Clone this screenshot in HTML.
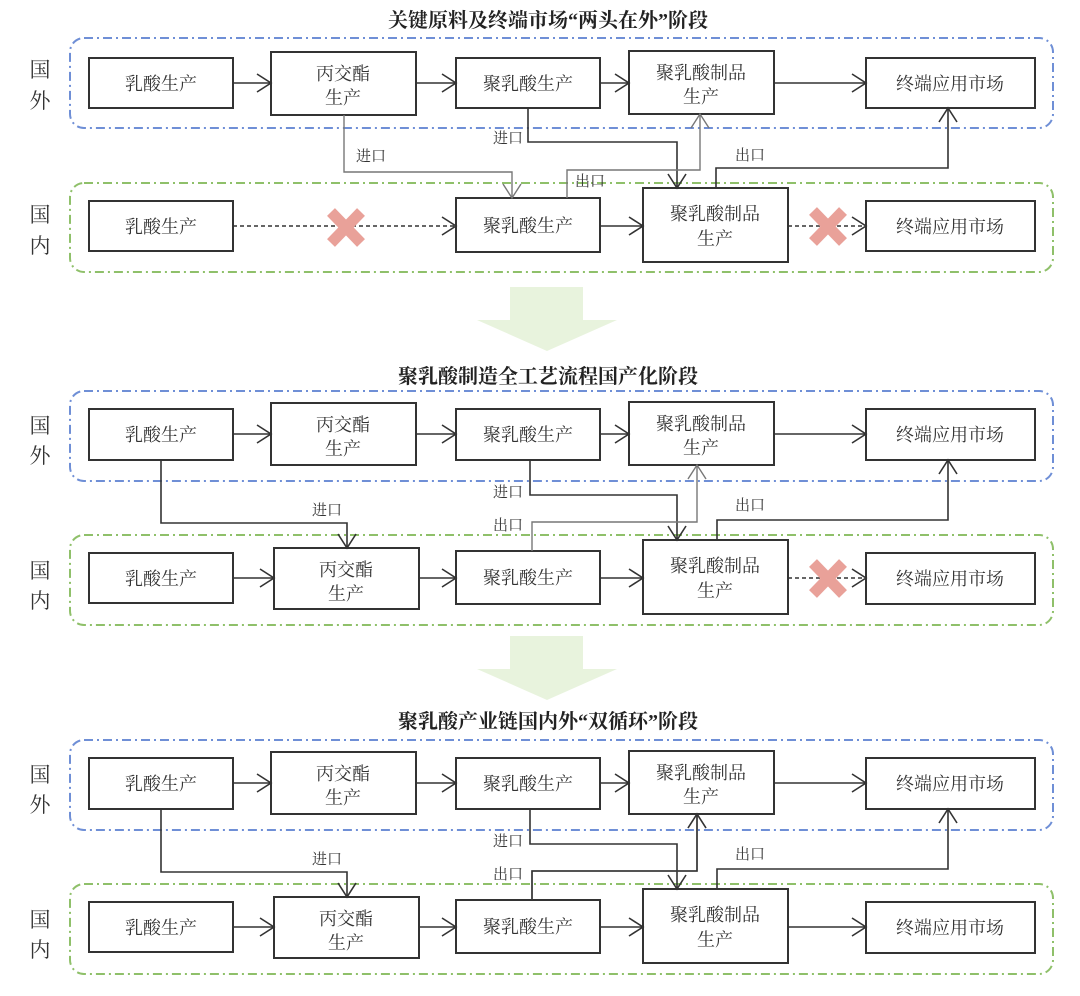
<!DOCTYPE html>
<html><head><meta charset="utf-8"><style>
html,body{margin:0;padding:0;background:#fff;}
svg{display:block;font-family:"Liberation Serif","Noto Serif CJK SC","Noto Sans CJK SC",serif;}
.b{fill:#fff;stroke:#333;stroke-width:2;}
.t{font-size:18px;fill:#333;text-anchor:middle;}
.l{font-size:15px;fill:#333;text-anchor:middle;}
.s{font-size:21px;fill:#333;text-anchor:middle;}
.h{font-size:20px;font-weight:bold;fill:#222;text-anchor:middle;}
.ln{fill:none;stroke:#333;stroke-width:1.6;}
.g{fill:none;stroke:#777;stroke-width:1.4;}
.blue{fill:none;stroke:#6f8fd6;stroke-width:2;stroke-dasharray:9 4 2 4;}
.green{fill:none;stroke:#8fc06a;stroke-width:2;stroke-dasharray:9 4 2 4;}
.x{stroke:#e9a199;stroke-width:11;}
</style></head><body>
<svg width="1080" height="996" viewBox="0 0 1080 996" xmlns="http://www.w3.org/2000/svg">
<defs>
<marker id="a" markerWidth="18" markerHeight="20" refX="15" refY="10" orient="auto" markerUnits="userSpaceOnUse"><path d="M1,1 L15,10 L1,19" fill="none" stroke="#333" stroke-width="1.6"/></marker>
<marker id="ag" markerWidth="18" markerHeight="20" refX="15" refY="10" orient="auto" markerUnits="userSpaceOnUse"><path d="M1,1 L15,10 L1,19" fill="none" stroke="#777" stroke-width="1.4"/></marker>
</defs>

<path d="M510,287 H583 V320 H617 L547,351 L477,320 H510 Z" fill="#e8f3dd"/>
<path d="M510,636 H583 V669 H617 L547,700 L477,669 H510 Z" fill="#e8f3dd"/>

<!-- ===== Panel 1 ===== -->
<text class="h" x="548" y="27">关键原料及终端市场“两头在外”阶段</text>
<rect class="blue" x="70" y="38" width="983" height="90" rx="14"/>
<rect class="green" x="70" y="183" width="983" height="89" rx="14"/>
<text class="s" x="40" y="77">国</text><text class="s" x="40" y="108">外</text>
<text class="s" x="40" y="222">国</text><text class="s" x="40" y="253">内</text>
<rect class="b" x="89" y="58" width="144" height="50"/><text class="t" x="161" y="90">乳酸生产</text>
<rect class="b" x="271" y="52" width="145" height="63"/><text class="t" x="343" y="80">丙交酯</text><text class="t" x="343" y="104">生产</text>
<rect class="b" x="456" y="58" width="144" height="50"/><text class="t" x="528" y="90">聚乳酸生产</text>
<rect class="b" x="629" y="51" width="145" height="63"/><text class="t" x="701" y="79">聚乳酸制品</text><text class="t" x="701" y="103">生产</text>
<rect class="b" x="866" y="58" width="169" height="50"/><text class="t" x="950" y="90">终端应用市场</text>
<line class="ln" x1="233" y1="83" x2="271" y2="83" marker-end="url(#a)"/>
<line class="ln" x1="416" y1="83" x2="456" y2="83" marker-end="url(#a)"/>
<line class="ln" x1="600" y1="83" x2="629" y2="83" marker-end="url(#a)"/>
<line class="ln" x1="774" y1="83" x2="866" y2="83" marker-end="url(#a)"/>
<rect class="b" x="89" y="201" width="144" height="50"/><text class="t" x="161" y="233">乳酸生产</text>
<rect class="b" x="456" y="198" width="144" height="54"/><text class="t" x="528" y="232">聚乳酸生产</text>
<rect class="b" x="643" y="188" width="145" height="74"/><text class="t" x="715" y="220">聚乳酸制品</text><text class="t" x="715" y="245">生产</text>
<rect class="b" x="866" y="201" width="169" height="50"/><text class="t" x="950" y="233">终端应用市场</text>
<line class="ln" x1="233" y1="226" x2="456" y2="226" stroke-dasharray="4 3" marker-end="url(#a)"/>
<line class="ln" x1="600" y1="226" x2="643" y2="226" marker-end="url(#a)"/>
<line class="ln" x1="788" y1="226" x2="866" y2="226" stroke-dasharray="4 3" marker-end="url(#a)"/>
<g class="x"><line x1="331" y1="212" x2="361" y2="243"/><line x1="361" y1="212" x2="331" y2="243"/></g>
<g class="x"><line x1="813" y1="211" x2="843" y2="242"/><line x1="843" y1="211" x2="813" y2="242"/></g>
<path class="g" d="M344,115 V172 H512 V198" marker-end="url(#ag)"/>
<text class="l" x="371" y="161">进口</text>
<path class="ln" d="M528,108 V142 H677 V188" marker-end="url(#a)"/>
<text class="l" x="508" y="143">进口</text>
<path class="g" d="M567,198 V170 H700 V114" marker-end="url(#ag)"/>
<text class="l" x="590" y="186">出口</text>
<path class="ln" d="M716,188 V168 H948 V108" marker-end="url(#a)"/>
<text class="l" x="750" y="160">出口</text>

<!-- ===== Panel 2 ===== -->
<text class="h" x="548" y="383">聚乳酸制造全工艺流程国产化阶段</text>
<g id="p2">
<rect class="blue" x="70" y="391" width="983" height="90" rx="14"/>
<rect class="green" x="70" y="535" width="983" height="90" rx="14"/>
<text class="s" x="40" y="433">国</text><text class="s" x="40" y="463">外</text>
<text class="s" x="40" y="578">国</text><text class="s" x="40" y="608">内</text>
<rect class="b" x="89" y="409" width="144" height="51"/><text class="t" x="161" y="441">乳酸生产</text>
<rect class="b" x="271" y="403" width="145" height="62"/><text class="t" x="343" y="431">丙交酯</text><text class="t" x="343" y="455">生产</text>
<rect class="b" x="456" y="409" width="144" height="51"/><text class="t" x="528" y="441">聚乳酸生产</text>
<rect class="b" x="629" y="402" width="145" height="63"/><text class="t" x="701" y="430">聚乳酸制品</text><text class="t" x="701" y="454">生产</text>
<rect class="b" x="866" y="409" width="169" height="51"/><text class="t" x="950" y="441">终端应用市场</text>
<line class="ln" x1="233" y1="434" x2="271" y2="434" marker-end="url(#a)"/>
<line class="ln" x1="416" y1="434" x2="456" y2="434" marker-end="url(#a)"/>
<line class="ln" x1="600" y1="434" x2="629" y2="434" marker-end="url(#a)"/>
<line class="ln" x1="774" y1="434" x2="866" y2="434" marker-end="url(#a)"/>
<rect class="b" x="89" y="553" width="144" height="50"/><text class="t" x="161" y="585">乳酸生产</text>
<rect class="b" x="274" y="548" width="145" height="61"/><text class="t" x="346" y="576">丙交酯</text><text class="t" x="346" y="600">生产</text>
<rect class="b" x="456" y="551" width="144" height="53"/><text class="t" x="528" y="584">聚乳酸生产</text>
<rect class="b" x="643" y="540" width="145" height="74"/><text class="t" x="715" y="572">聚乳酸制品</text><text class="t" x="715" y="597">生产</text>
<rect class="b" x="866" y="553" width="169" height="51"/><text class="t" x="950" y="585">终端应用市场</text>
<line class="ln" x1="233" y1="578" x2="274" y2="578" marker-end="url(#a)"/>
<line class="ln" x1="419" y1="578" x2="456" y2="578" marker-end="url(#a)"/>
<line class="ln" x1="600" y1="578" x2="643" y2="578" marker-end="url(#a)"/>
<path class="ln" d="M161,460 V523 H347 V548" marker-end="url(#a)"/>
<text class="l" x="327" y="515">进口</text>
<path class="ln" d="M530,460 V495 H677 V540" marker-end="url(#a)"/>
<text class="l" x="508" y="497">进口</text>
<path class="g" d="M532,551 V522 H697 V465" marker-end="url(#ag)"/>
<text class="l" x="508" y="530">出口</text>
<path class="ln" d="M717,540 V520 H948 V460" marker-end="url(#a)"/>
<text class="l" x="750" y="510">出口</text>
</g>
<line class="ln" x1="788" y1="578" x2="866" y2="578" stroke-dasharray="4 3" marker-end="url(#a)"/>
<g class="x"><line x1="813" y1="563" x2="843" y2="594"/><line x1="843" y1="563" x2="813" y2="594"/></g>

<!-- ===== Panel 3 ===== -->
<text class="h" x="548" y="728">聚乳酸产业链国内外“双循环”阶段</text>
<use href="#p2" transform="translate(0,349)"/>
<path class="ln" d="M532,900 V871 H697 V814" marker-end="url(#a)"/>
<line class="ln" x1="788" y1="927" x2="866" y2="927" marker-end="url(#a)"/>
</svg>
</body></html>
